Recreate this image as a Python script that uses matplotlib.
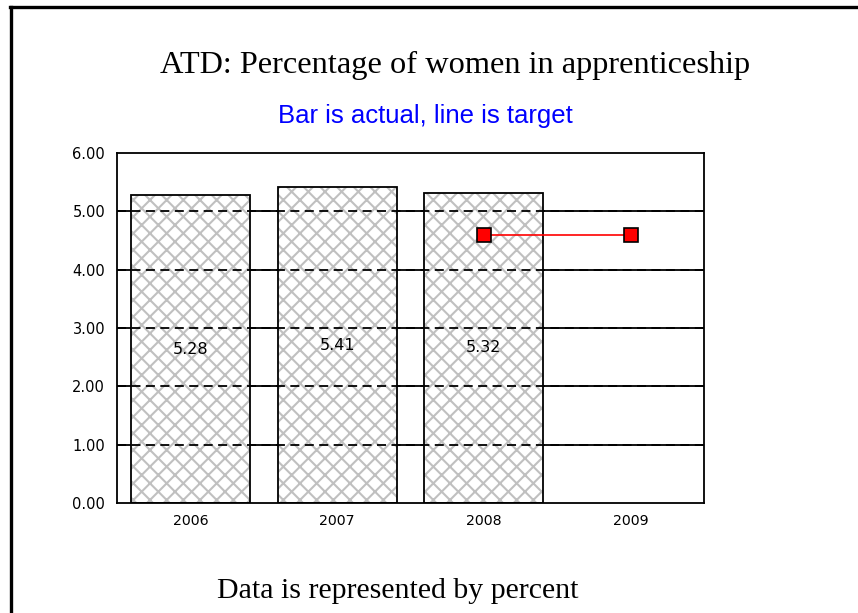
import matplotlib
matplotlib.use("Agg")
import matplotlib.pyplot as plt
from matplotlib.lines import Line2D

years = ["2006", "2007", "2008", "2009"]
actual = [5.28, 5.41, 5.32]
target_years = ["2008", "2009"]
target = [4.6, 4.6]
yticks = [0, 1, 2, 3, 4, 5, 6]

plt.rcParams['hatch.linewidth'] = 1.5

fig = plt.figure(figsize=(8.58, 6.13), dpi=100)
ax = fig.add_axes([0.1364, 0.1794, 0.6841, 0.571])

xpos = list(range(len(years)))
idx = {y: i for i, y in enumerate(years)}

for t in yticks[1:-1]:
    ax.axhline(t, color='black', lw=1.3, zorder=0)

bx = [idx[y] for y in years[:len(actual)]]
ax.bar(bx, actual, width=0.81, facecolor='white', edgecolor='#c0c0c0',
       hatch='xx', lw=0, zorder=1)
ax.bar(bx, actual, width=0.81, facecolor='none', edgecolor='black',
       lw=1.3, zorder=3)
for t in yticks[1:-1]:
    ax.axhline(t, color='black', lw=1.3, ls=(0, (5, 3)), zorder=2)

for x, v in zip(bx, actual):
    ax.text(x, v / 2, f"{v:.2f}", ha='center', va='center', fontsize=11.5,
            family='DejaVu Sans', zorder=5)

tx = [idx[y] for y in target_years]
ax.plot(tx, target, color='red', lw=1.2, marker='s', markersize=10.5,
        markerfacecolor='#ff0000', markeredgecolor='black', markeredgewidth=1.2,
        zorder=6)

ax.set_xlim(-0.5, len(years) - 0.5)
ax.set_ylim(0, 6)
ax.set_yticks(yticks)
ax.set_yticklabels([f"{t:.2f}" for t in yticks], family='DejaVu Sans', fontsize=10.5)
ax.set_xticks(xpos)
ax.set_xticklabels(years, family='DejaVu Sans', fontsize=10.2)
ax.tick_params(axis='y', length=0, pad=8.5)
ax.tick_params(axis='x', length=0, pad=8)
for s in ax.spines.values():
    s.set_linewidth(1.3)
    s.set_zorder(4)

fig.text(0.530, 0.893, "ATD: Percentage of women in apprenticeship",
         ha='center', va='center', family='Liberation Serif', fontsize=23.3)
fig.text(0.496, 0.811, "Bar is actual, line is target", ha='center', va='center',
         family='Liberation Sans', fontsize=18.5, color='#0000ff')
fig.text(0.463, 0.036, "Data is represented by percent", ha='center', va='center',
         family='Liberation Serif', fontsize=21.5)

fig.add_artist(Line2D([0.0128, 0.0128], [0, 0.988], color='black', lw=2.4,
                      transform=fig.transFigure))
fig.add_artist(Line2D([0.0118, 1.0], [0.988, 0.988], color='black', lw=2.4,
                      transform=fig.transFigure))

fig.savefig("out.png", dpi=100, facecolor='white')
